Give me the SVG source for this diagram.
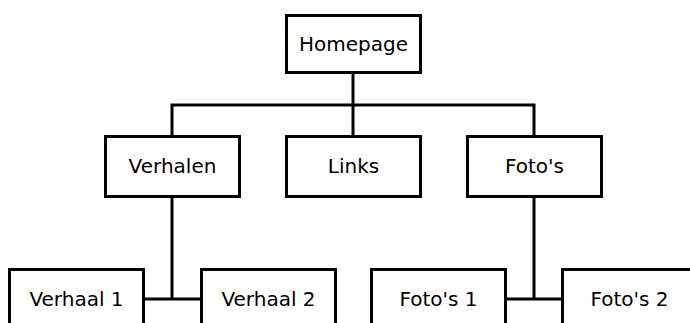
<svg xmlns="http://www.w3.org/2000/svg" width="690" height="323" viewBox="0 0 690 323">
<style>
.box{fill:#fff;stroke:#000;stroke-width:3}
.lbl{font-family:"DejaVu Sans",Verdana,sans-serif;font-size:20px;fill:#000;text-anchor:middle}
.con{fill:none;stroke:#000;stroke-width:3}
</style>
<rect width="690" height="323" fill="#fff"/>
<g id="connectors">
<path class="con" d="M353 72V105M172 136V105H534V136M353 105V136"/>
<path class="con" d="M172 197V299M143 299H201"/>
<path class="con" d="M534 197V299M505 299H563"/>
</g>
<g id="homepage"><rect class="box" x="286.5" y="15.5" width="134" height="57"/><text class="lbl" x="353.5" y="51">Homepage</text></g>
<g id="verhalen"><rect class="box" x="105.5" y="136.5" width="134" height="60"/><text class="lbl" x="172.5" y="173">Verhalen</text></g>
<g id="links"><rect class="box" x="286.5" y="136.5" width="134" height="60"/><text class="lbl" x="353.5" y="173">Links</text></g>
<g id="fotos"><rect class="box" x="467.5" y="136.5" width="134" height="60"/><text class="lbl" x="534.5" y="173">Foto's</text></g>
<g id="verhaal1"><rect class="box" x="9.5" y="269.5" width="134" height="60"/><text class="lbl" x="76.5" y="306">Verhaal 1</text></g>
<g id="verhaal2"><rect class="box" x="201.5" y="269.5" width="134" height="60"/><text class="lbl" x="268.5" y="306">Verhaal 2</text></g>
<g id="fotos1"><rect class="box" x="371.5" y="269.5" width="134" height="60"/><text class="lbl" x="438.5" y="306">Foto's 1</text></g>
<g id="fotos2"><rect class="box" x="562.5" y="269.5" width="134" height="60"/><text class="lbl" x="629.5" y="306">Foto's 2</text></g>
</svg>
